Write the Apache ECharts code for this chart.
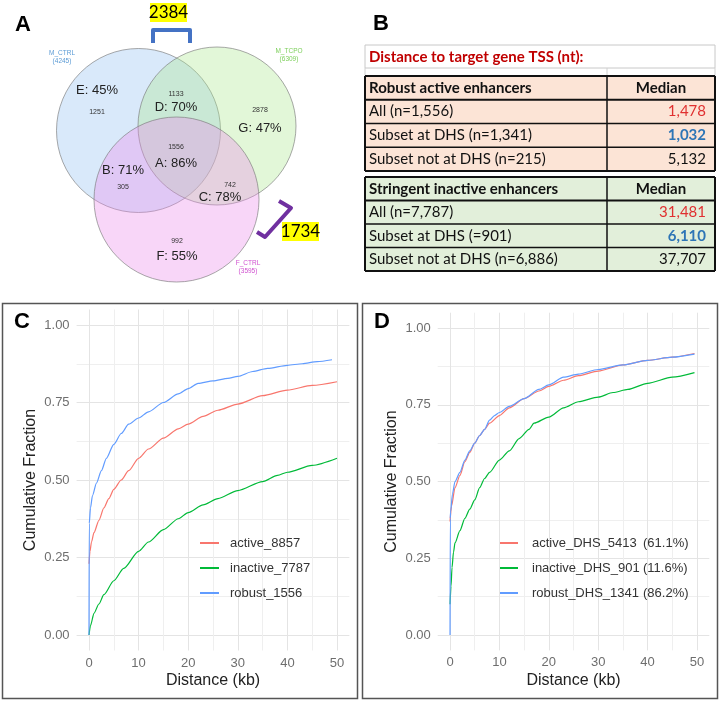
<!DOCTYPE html>
<html>
<head>
<meta charset="UTF-8">
<title>Enhancer distance to target TSS</title>
<script src="https://cdn.jsdelivr.net/npm/echarts@6/dist/echarts.min.js"></script>
<style>
    body { margin: 0; padding: 0; background: #fff; }
    #main { width: 720px; height: 701px; }
</style>
</head>
<body>
<div id="main"></div>
<script>
// ---- panel A: venn ----
var vennSets = ['M_CTRL', 'M_TCPO', 'F_CTRL'];
var vennSetSizes = [4245, 6309, 3595];
var vennRegions = ['E', 'D', 'G', 'B', 'A', 'C', 'F'];
var vennCounts = [1251, 1133, 2878, 305, 1556, 742, 992];
var vennPct = [45, 70, 47, 71, 86, 78, 55];
var bracketTotals = [2384, 1734];

// ---- panel B: table ----
var robustHead = ['Robust active enhancers', 'Median'];
var robustRows = ['All (n=1,556)', 'Subset at DHS (n=1,341)', 'Subset not at DHS (n=215)'];
var robustMedians = ['1,478', '1,032', '5,132'];
var inactiveHead = ['Stringent inactive enhancers', 'Median'];
var inactiveRows = ['All (n=7,787)', 'Subset at DHS (=901)', 'Subset not at DHS (n=6,886)'];
var inactiveMedians = ['31,481', '6,110', '37,707'];

// ---- panel C: cumulative fraction vs distance (kb) ----
var activeC = [[0,0.23],[0.2,0.27],[0.5,0.30],[1,0.33],[2,0.37],[3,0.41],[4,0.44],[5,0.47],[6.5,0.50],[8,0.53],[10,0.57],[12,0.60],[15,0.635],[18,0.665],[20,0.68],[23,0.705],[26,0.725],[30,0.745],[35,0.772],[40,0.79],[45,0.805],[50,0.817]];
var inactiveC = [[0,0],[0.3,0.03],[1,0.07],[2,0.10],[3,0.13],[5,0.175],[7,0.215],[10,0.27],[12,0.30],[15,0.34],[18,0.375],[20,0.395],[23,0.42],[26,0.44],[30,0.466],[35,0.495],[38,0.515],[40,0.525],[45,0.547],[50,0.57]];
var robustC = [[0,0],[0.05,0.36],[0.3,0.41],[0.7,0.45],[1.5,0.49],[2.5,0.53],[3.5,0.57],[5,0.615],[6.5,0.65],[8,0.68],[10,0.70],[12,0.72],[15,0.75],[18,0.778],[20,0.795],[22,0.812],[25,0.82],[28,0.828],[30,0.834],[33,0.85],[36,0.86],[40,0.87],[43,0.875],[46,0.882],[49,0.888]];
var seriesNamesC = ['active_8857', 'inactive_7787', 'robust_1556'];

// ---- panel D ----
var activeD = [[0,0.37],[0.3,0.42],[1,0.48],[2,0.52],[3,0.565],[4,0.595],[5,0.625],[6,0.65],[7,0.67],[8,0.69],[10,0.715],[12,0.74],[15,0.77],[18,0.795],[20,0.81],[23,0.83],[26,0.845],[30,0.86],[35,0.88],[40,0.895],[45,0.905],[49.5,0.917]];
var inactiveD = [[0,0.10],[0.2,0.16],[0.4,0.22],[0.7,0.27],[1,0.30],[2,0.34],[3,0.38],[4,0.41],[5,0.44],[6,0.48],[7,0.51],[8,0.53],[10,0.57],[12,0.60],[14,0.64],[16,0.67],[17,0.69],[20,0.71],[23,0.74],[26,0.76],[30,0.775],[33,0.79],[36,0.80],[40,0.82],[45,0.84],[49.5,0.855]];
var robustD = [[0,0],[0.05,0.38],[0.1,0.40],[0.5,0.46],[1,0.50],[2,0.53],[3,0.57],[4,0.60],[5,0.625],[6,0.65],[7,0.67],[8,0.70],[9,0.715],[10,0.725],[12,0.745],[15,0.77],[18,0.80],[20,0.815],[23,0.84],[26,0.85],[30,0.865],[35,0.88],[40,0.895],[45,0.905],[49.5,0.915]];
var seriesNamesD = ['active_DHS_5413', 'inactive_DHS_901', 'robust_DHS_1341'];
var pctD = ['(61.1%)', '(11.6%)', '(86.2%)'];

var lineColors = ['#F8766D', '#00BA38', '#619CFF'];

var chart = echarts.init(document.getElementById('main'), null, {renderer: 'canvas'});

var T = 'rgba(0,0,0,0)';
var major = '#e4e4e4', minor = '#efefef';

function xAxisFor(g) {
    return {
        gridIndex: g, type: 'value', min: -2.5, max: 52.5, interval: 2.5,
        axisLine: {show: false}, axisTick: {show: false},
        axisLabel: {
            color: '#6e6e6e', fontSize: 13, fontFamily: 'Liberation Sans', margin: 6,
            formatter: function (v) {
                return (v >= 0 && Math.abs(v % 10) < 1e-6) ? String(Math.round(v)) : '';
            }
        },
        splitLine: {show: true, lineStyle: {color: [T, major, T, minor], width: 1}},
        name: 'Distance (kb)', nameLocation: 'middle', nameGap: 22,
        nameTextStyle: {color: '#222', fontSize: 16, fontFamily: 'Liberation Sans'}
    };
}

function yAxisFor(g) {
    return {
        gridIndex: g, type: 'value', min: -0.05, max: 1.05, interval: 0.025,
        axisLine: {show: false}, axisTick: {show: false},
        axisLabel: {
            color: '#6e6e6e', fontSize: 13, fontFamily: 'Liberation Sans', margin: 7,
            formatter: function (v) {
                var q = v * 4;
                return Math.abs(q - Math.round(q)) < 1e-6 ? v.toFixed(2) : '';
            }
        },
        splitLine: {show: true, lineStyle: {color: [T, T, major, T, T, T, T, minor, T, T], width: 1}},
        name: 'Cumulative Fraction', nameLocation: 'middle', nameGap: 38, nameRotate: 90,
        nameTextStyle: {color: '#222', fontSize: 16, fontFamily: 'Liberation Sans'}
    };
}

function lineSeries(name, data, color, g) {
    return {
        type: 'line', name: name, data: data, xAxisIndex: g, yAxisIndex: g,
        symbol: 'none', smooth: 0.25, smoothMonotone: 'x', color: color,
        lineStyle: {width: 1.2, color: color}, silent: true, animation: false
    };
}

// venn layout (hidden pixel-like axes)
var vennCx = [138.5, 217, 176.5], vennCy = [130.5, 126, 199.5], vennR = [82, 79, 82.5];
var vennFill = ['rgba(150,195,240,0.45)', 'rgba(170,230,140,0.42)', 'rgba(235,140,235,0.45)'];
var setLabelPos = [[62, 53], [289, 51], [248, 263]];
var setLabelColor = ['#5b9bd5', '#7ccf5a', '#d050d0'];
var pctPos = [[97, 90], [176, 107], [260, 128], [123, 170], [176, 163], [220, 197], [177, 256]];
var cntPos = [[97, 112], [176, 94], [260, 110], [123, 187], [176, 147], [230, 185], [177, 241]];

var graphics = [];
function txt(text, x, y, font, fill, align) {
    graphics.push({
        type: 'text', silent: true, z: 10,
        style: {text: text, x: x, y: y, font: font, fill: fill,
            align: align || 'center', verticalAlign: 'middle',
            textAlign: align || 'center', textVerticalAlign: 'middle'}
    });
}
function rect(x, y, w, h, fill, stroke, lw, z) {
    graphics.push({type: 'rect', silent: true, z: z || 1, shape: {x: x, y: y, width: w, height: h},
        style: {fill: fill, stroke: stroke, lineWidth: lw || 0}});
}
function seg(x1, y1, x2, y2, stroke, lw) {
    graphics.push({type: 'line', silent: true, z: 5, shape: {x1: x1, y1: y1, x2: x2, y2: y2},
        style: {stroke: stroke, lineWidth: lw}});
}

// panel letters
txt('A', 23, 25, 'bold 22px Liberation Sans', '#000');
txt('B', 381, 24, 'bold 22px Liberation Sans', '#000');
txt('C', 22, 322, 'bold 22px Liberation Sans', '#000');
txt('D', 382, 322, 'bold 22px Liberation Sans', '#000');

// panel frames
rect(2.5, 303.5, 355, 395, null, '#555', 1.5, 0);
rect(362.5, 303.5, 355, 395, null, '#555', 1.5, 0);

// venn text
vennSets.forEach(function (s, i) {
    txt(s, setLabelPos[i][0], setLabelPos[i][1], '6.5px Liberation Sans', setLabelColor[i]);
    txt('(' + vennSetSizes[i] + ')', setLabelPos[i][0], setLabelPos[i][1] + 8, '6.5px Liberation Sans', setLabelColor[i]);
});
vennRegions.forEach(function (r, i) {
    txt(r + ': ' + vennPct[i] + '%', pctPos[i][0], pctPos[i][1], '13px Liberation Sans', '#222');
    txt(String(vennCounts[i]), cntPos[i][0], cntPos[i][1], '7px Liberation Sans', '#333');
});

// brackets and totals
graphics.push({type: 'polyline', silent: true, z: 6, shape: {points: [[153, 43], [153, 30], [190, 30], [190, 43]]},
    style: {stroke: '#4472c4', lineWidth: 4, fill: null, lineJoin: 'round'}});
graphics.push({type: 'polyline', silent: true, z: 6, shape: {points: [[279, 201], [291, 208], [265, 237], [257, 232]]},
    style: {stroke: '#7030a0', lineWidth: 4, fill: null, lineJoin: 'round'}});
rect(150, 3, 37, 19, '#ffff00', null, 0, 5);
txt(String(bracketTotals[0]), 168.5, 13, '17px Lato', '#000');
rect(282, 222, 37, 19, '#ffff00', null, 0, 5);
txt(String(bracketTotals[1]), 300.5, 232, '17px Lato', '#000');

// table
var tx0 = 365, txm = 607, tx1 = 715;
rect(tx0, 45, tx1 - tx0, 23, '#fff', '#c8c8c8', 1, 1);
txt('Distance to target gene TSS (nt):', 369, 57, 'bold 15px Lato', '#c00000', 'left');
seg(tx0, 68, tx0, 76, '#d0d0d0', 1);
seg(txm, 68, txm, 76, '#d0d0d0', 1);
seg(tx1, 68, tx1, 76, '#d0d0d0', 1);

function table(top, rowH, head, rows, medians, bg) {
    var n = rows.length + 1;
    rect(tx0, top, tx1 - tx0, rowH * n, bg, null, 0, 1);
    for (var i = 0; i <= n; i++) {
        var y = top + i * rowH;
        seg(tx0, y, tx1, y, '#111', (i === 0 || i === 1 || i === n) ? 2 : 1.3);
    }
    seg(tx0, top, tx0, top + rowH * n, '#111', 2);
    seg(txm, top, txm, top + rowH * n, '#111', 1.5);
    seg(tx1, top, tx1, top + rowH * n, '#111', 2);
    txt(head[0], tx0 + 4, top + rowH / 2, 'bold 15px Lato', '#111', 'left');
    txt(head[1], (txm + tx1) / 2, top + rowH / 2, 'bold 15px Lato', '#111');
    var medColors = ['#e03030', '#2e75b6', '#111'];
    rows.forEach(function (r, i) {
        var yc = top + rowH * (i + 1.5);
        txt(r, tx0 + 4, yc, '15px Lato', '#111', 'left');
        txt(medians[i], tx1 - 9, yc, (i === 1 ? 'bold ' : '') + '15px Lato', medColors[i], 'right');
    });
}
table(76, 23.75, robustHead, robustRows, robustMedians, '#fce4d6');
table(177, 23.5, inactiveHead, inactiveRows, inactiveMedians, '#e2efda');

var option = {
    backgroundColor: '#fff',
    animation: false,
    grid: [
        {left: 76.6, top: 309.5, width: 272.8, height: 341},
        {left: 437.7, top: 312.7, width: 271.6, height: 337.7},
        {left: 0, top: 0, width: 340, height: 300}
    ],
    xAxis: [xAxisFor(0), xAxisFor(1), {gridIndex: 2, type: 'value', min: 0, max: 340, show: false}],
    yAxis: [yAxisFor(0), yAxisFor(1), {gridIndex: 2, type: 'value', min: 0, max: 300, inverse: true, show: false}],
    legend: [
        {
            data: seriesNamesC, orient: 'vertical', left: 195, top: 530, icon: 'rect',
            itemWidth: 19, itemHeight: 2, itemGap: 9, selectedMode: false,
            textStyle: {fontFamily: 'Liberation Sans', fontSize: 13, color: '#333', lineHeight: 16, padding: [0, 0, 0, 6]}
        },
        {
            data: seriesNamesD, orient: 'vertical', left: 495, top: 530, icon: 'rect',
            itemWidth: 18, itemHeight: 2, itemGap: 9, selectedMode: false,
            formatter: function (name) {
                return '{n|' + name + '}{p|' + pctD[seriesNamesD.indexOf(name)] + '}';
            },
            textStyle: {
                fontFamily: 'Liberation Sans', fontSize: 13, color: '#333', lineHeight: 16, padding: [0, 0, 0, 9],
                rich: {
                    n: {width: 111, fontFamily: 'Liberation Sans', fontSize: 13, color: '#333'},
                    p: {fontFamily: 'Liberation Sans', fontSize: 13, color: '#333'}
                }
            }
        }
    ],
    series: [
        lineSeries(seriesNamesC[0], activeC, lineColors[0], 0),
        lineSeries(seriesNamesC[1], inactiveC, lineColors[1], 0),
        lineSeries(seriesNamesC[2], robustC, lineColors[2], 0),
        lineSeries(seriesNamesD[0], activeD, lineColors[0], 1),
        lineSeries(seriesNamesD[1], inactiveD, lineColors[1], 1),
        lineSeries(seriesNamesD[2], robustD, lineColors[2], 1),
        {
            type: 'scatter', xAxisIndex: 2, yAxisIndex: 2, silent: true,
            symbol: 'circle',
            symbolSize: function (val) { return val[2] * 2; },
            data: vennSets.map(function (s, i) {
                return {
                    name: s, value: [vennCx[i], vennCy[i], vennR[i]],
                    itemStyle: {color: vennFill[i], borderColor: 'rgba(120,120,120,0.8)', borderWidth: 1}
                };
            })
        }
    ],
    graphic: {elements: graphics}
};
chart.setOption(option);
</script>
</body>
</html>
